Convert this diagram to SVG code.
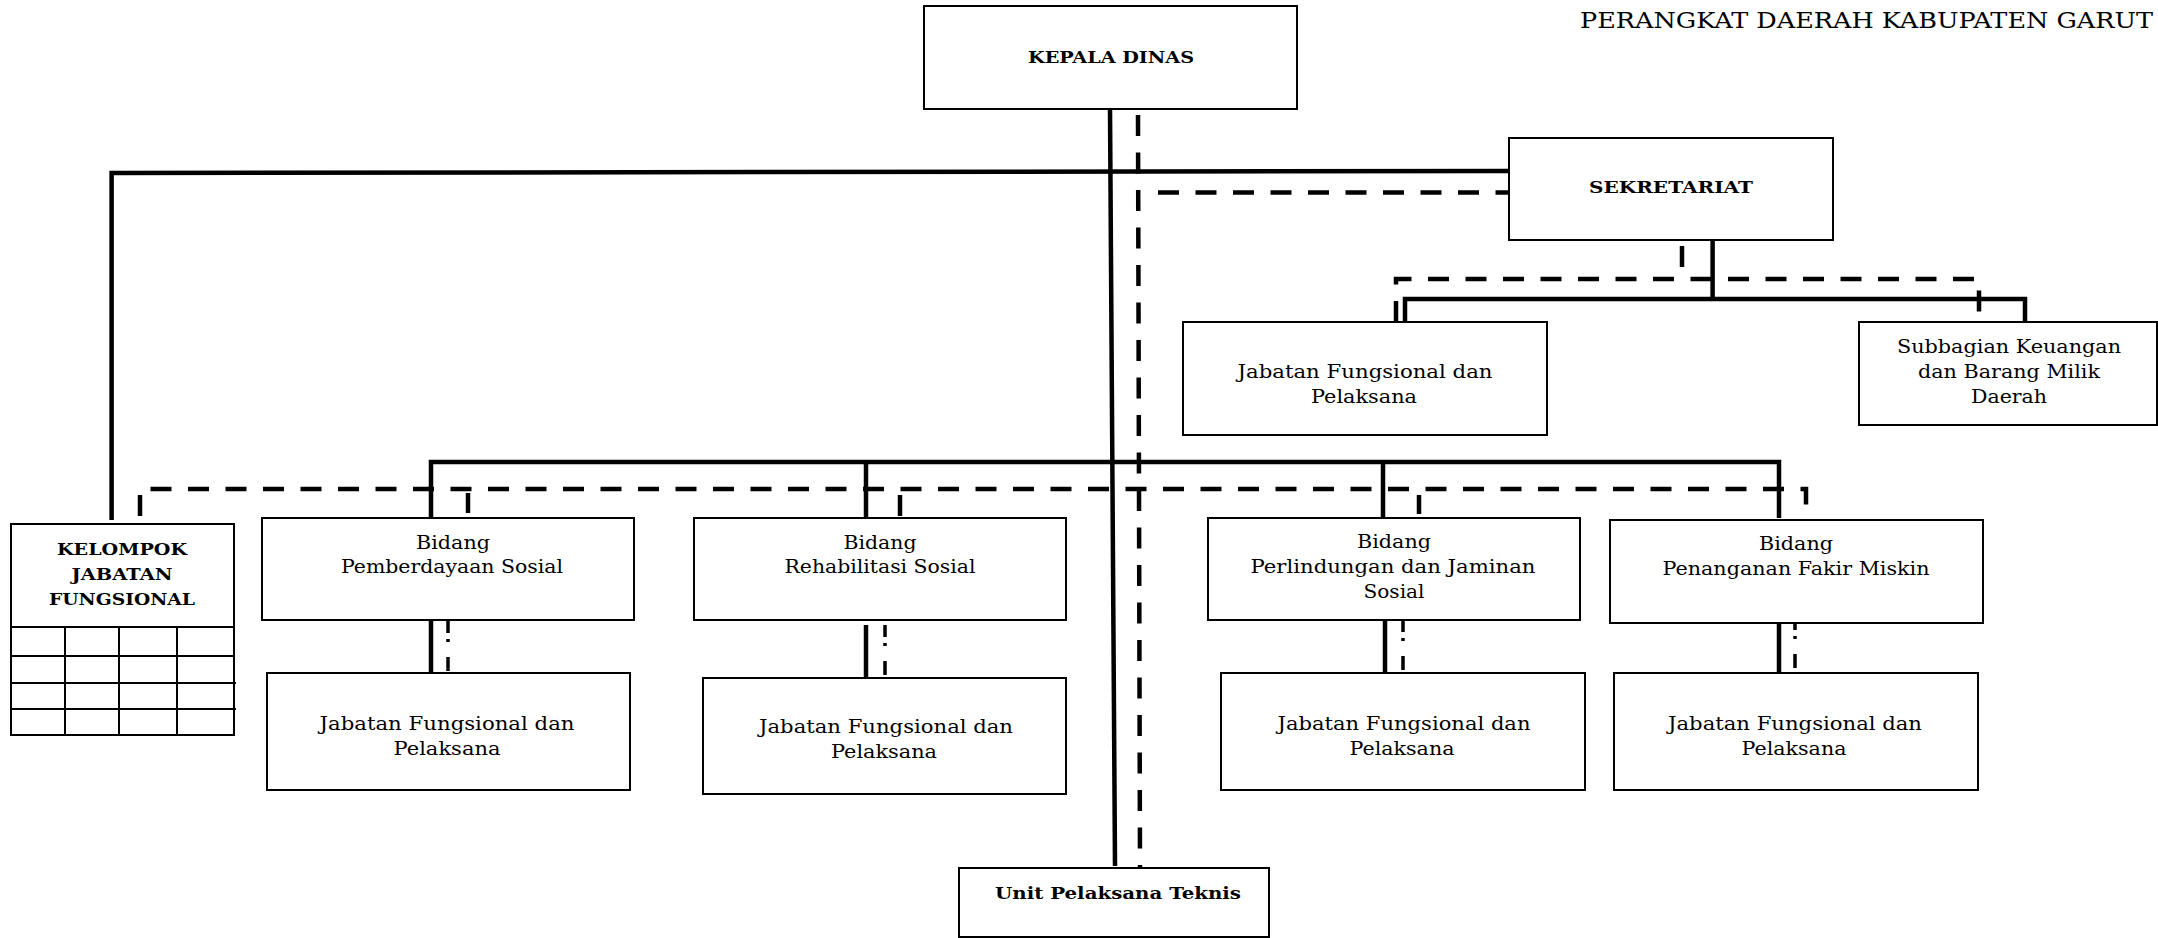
<svg xmlns="http://www.w3.org/2000/svg" width="2158" height="938" viewBox="0 0 2158 938">
  <style>
    .box { fill: #ffffff; stroke: #000000; stroke-width: 2; }
    .grid { fill: none; stroke: #000000; stroke-width: 2; }
    .line { fill: none; stroke: #000000; stroke-width: 4.5; }
    .dash { fill: none; stroke: #000000; stroke-width: 4.5; stroke-dasharray: 21 16.5; }
    .dashdot { fill: none; stroke: #000000; stroke-width: 3.5; stroke-dasharray: 12 6 3 15 14 100; }
    .t { font-family: "DejaVu Serif", "Liberation Serif", serif; font-size: 19px; fill: #000000; text-anchor: middle; }
    .b { font-family: "DejaVu Serif", "Liberation Serif", serif; font-size: 17px; font-weight: bold; fill: #000000; text-anchor: middle; }
    .title { font-family: "DejaVu Serif", "Liberation Serif", serif; font-size: 23px; fill: #000000; }
  </style>
  <rect x="0" y="0" width="2158" height="938" fill="#ffffff"/>

  <text class="title" x="1580" y="28" textLength="573" lengthAdjust="spacingAndGlyphs">PERANGKAT DAERAH KABUPATEN GARUT</text>

  <!-- connectors -->
  <g id="connectors">
    <!-- solid lines of command -->
    <path class="line" d="M1110,109 L1115,866"/>
    <path class="line" d="M111.6,520 V173 L1509,171"/>
    <path class="line" d="M1712.6,240 V299"/>
    <path class="line" d="M1405,321 V299 H2025 V321"/>
    <path class="line" d="M431,518 V462 H1779 V518"/>
    <path class="line" d="M866,462 V518"/>
    <path class="line" d="M1383,462 V518"/>
    <path class="line" d="M431,620 V676"/>
    <path class="line" d="M866,625 V680"/>
    <path class="line" d="M1385,620 V675"/>
    <path class="line" d="M1779,618 V673"/>
    <!-- dashed lines of coordination -->
    <path class="dash" d="M1138,115 L1140,868"/>
    <path class="dash" d="M1158,192.5 H1509"/>
    <path class="dash" d="M1682,246 V268"/>
    <path class="dash" d="M1396,322 V279 H1979 V322"/>
    <path class="dash" d="M140,516 V489 H1806 V514"/>
    <path class="dash" d="M468,493 V513"/>
    <path class="dash" d="M900,495 V516"/>
    <path class="dash" d="M1419,495 V514"/>
    <path class="dashdot" d="M448,621 V676"/>
    <path class="dashdot" d="M885,625 V680"/>
    <path class="dashdot" d="M1403,620 V675"/>
    <path class="dashdot" d="M1795,618 V673"/>
  </g>

  <g id="kepala-dinas">
    <rect class="box" x="924" y="6" width="373" height="103"/>
    <text class="b" x="1111" y="63" textLength="166" lengthAdjust="spacingAndGlyphs">KEPALA DINAS</text>
  </g>

  <g id="sekretariat">
    <rect class="box" x="1509" y="138" width="324" height="102"/>
    <text class="b" x="1671" y="193" textLength="164" lengthAdjust="spacingAndGlyphs">SEKRETARIAT</text>
  </g>

  <g id="jf-sekretariat">
    <rect class="box" x="1183" y="322" width="364" height="113"/>
    <text class="t" x="1365" y="378" textLength="255" lengthAdjust="spacingAndGlyphs">Jabatan Fungsional dan</text>
    <text class="t" x="1364" y="403" textLength="106" lengthAdjust="spacingAndGlyphs">Pelaksana</text>
  </g>

  <g id="subbagian-keuangan">
    <rect class="box" x="1859" y="322" width="298" height="103"/>
    <text class="t" x="2009" y="353" textLength="224" lengthAdjust="spacingAndGlyphs">Subbagian Keuangan</text>
    <text class="t" x="2009" y="378" textLength="182" lengthAdjust="spacingAndGlyphs">dan Barang Milik</text>
    <text class="t" x="2009" y="403" textLength="76" lengthAdjust="spacingAndGlyphs">Daerah</text>
  </g>

  <g id="kelompok-jabatan-fungsional">
    <rect class="box" x="11" y="524" width="223" height="211"/>
    <path class="grid" d="M11,627 H234 M11,656 H234 M11,683 H236 M11,709 H236 M65,627 V735 M119,627 V735 M177,627 V735"/>
    <text class="b" x="122" y="555" textLength="130" lengthAdjust="spacingAndGlyphs">KELOMPOK</text>
    <text class="b" x="122" y="580" textLength="101" lengthAdjust="spacingAndGlyphs">JABATAN</text>
    <text class="b" x="122" y="605" textLength="146" lengthAdjust="spacingAndGlyphs">FUNGSIONAL</text>
  </g>

  <g id="bidang-pemberdayaan">
    <rect class="box" x="262" y="518" width="372" height="102"/>
    <text class="t" x="453" y="549" textLength="74" lengthAdjust="spacingAndGlyphs">Bidang</text>
    <text class="t" x="452" y="573" textLength="222" lengthAdjust="spacingAndGlyphs">Pemberdayaan Sosial</text>
  </g>

  <g id="bidang-rehabilitasi">
    <rect class="box" x="694" y="518" width="372" height="102"/>
    <text class="t" x="880" y="549" textLength="73" lengthAdjust="spacingAndGlyphs">Bidang</text>
    <text class="t" x="880" y="573" textLength="191" lengthAdjust="spacingAndGlyphs">Rehabilitasi Sosial</text>
  </g>

  <g id="bidang-perlindungan">
    <rect class="box" x="1208" y="518" width="372" height="102"/>
    <text class="t" x="1394" y="548" textLength="74" lengthAdjust="spacingAndGlyphs">Bidang</text>
    <text class="t" x="1393" y="573" textLength="285" lengthAdjust="spacingAndGlyphs">Perlindungan dan Jaminan</text>
    <text class="t" x="1394" y="598" textLength="61" lengthAdjust="spacingAndGlyphs">Sosial</text>
  </g>

  <g id="bidang-fakir-miskin">
    <rect class="box" x="1610" y="520" width="373" height="103"/>
    <text class="t" x="1796" y="550" textLength="74" lengthAdjust="spacingAndGlyphs">Bidang</text>
    <text class="t" x="1796" y="575" textLength="267" lengthAdjust="spacingAndGlyphs">Penanganan Fakir Miskin</text>
  </g>

  <g id="jf-pemberdayaan">
    <rect class="box" x="267" y="673" width="363" height="117"/>
    <text class="t" x="447" y="730" textLength="255" lengthAdjust="spacingAndGlyphs">Jabatan Fungsional dan</text>
    <text class="t" x="447" y="755" textLength="107" lengthAdjust="spacingAndGlyphs">Pelaksana</text>
  </g>

  <g id="jf-rehabilitasi">
    <rect class="box" x="703" y="678" width="363" height="116"/>
    <text class="t" x="886" y="733" textLength="254" lengthAdjust="spacingAndGlyphs">Jabatan Fungsional dan</text>
    <text class="t" x="884" y="758" textLength="106" lengthAdjust="spacingAndGlyphs">Pelaksana</text>
  </g>

  <g id="jf-perlindungan">
    <rect class="box" x="1221" y="673" width="364" height="117"/>
    <text class="t" x="1404" y="730" textLength="253" lengthAdjust="spacingAndGlyphs">Jabatan Fungsional dan</text>
    <text class="t" x="1402" y="755" textLength="105" lengthAdjust="spacingAndGlyphs">Pelaksana</text>
  </g>

  <g id="jf-fakir-miskin">
    <rect class="box" x="1614" y="673" width="364" height="117"/>
    <text class="t" x="1795" y="730" textLength="254" lengthAdjust="spacingAndGlyphs">Jabatan Fungsional dan</text>
    <text class="t" x="1794" y="755" textLength="105" lengthAdjust="spacingAndGlyphs">Pelaksana</text>
  </g>

  <g id="unit-pelaksana-teknis">
    <rect class="box" x="959" y="868" width="310" height="69"/>
    <text class="b" x="1118" y="899" textLength="246" lengthAdjust="spacingAndGlyphs">Unit Pelaksana Teknis</text>
  </g>
</svg>
